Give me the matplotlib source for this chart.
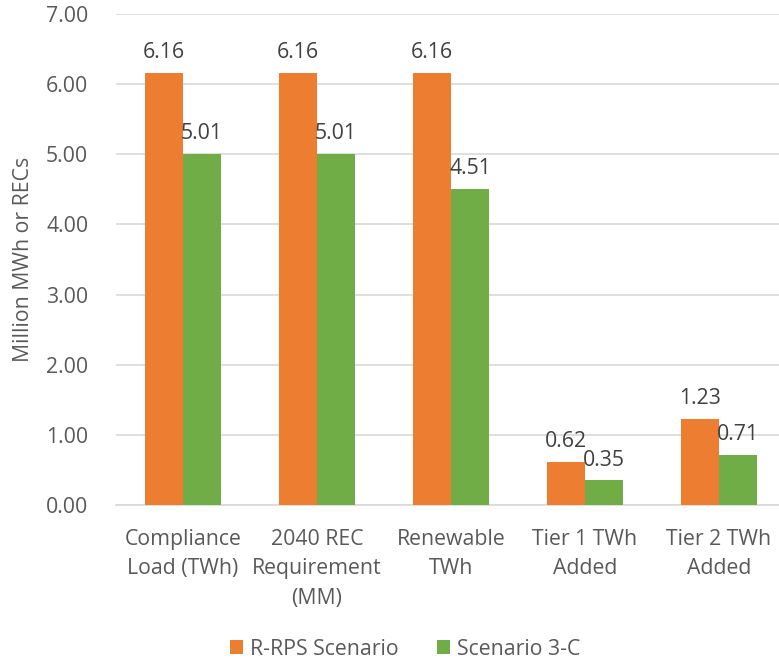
import matplotlib.pyplot as plt
import numpy as np

categories = ["Compliance\nLoad (TWh)", "2040 REC\nRequirement\n(MM)", "Renewable\nTWh",
              "Tier 1 TWh\nAdded", "Tier 2 TWh\nAdded"]
rrps = [6.16, 6.16, 6.16, 0.62, 1.23]
scen_3c = [5.01, 5.01, 4.51, 0.35, 0.71]
series_names = ["R-RPS Scenario", "Scenario 3-C"]

ORANGE = "#ED7D31"
GREEN = "#70AD47"
TEXT = "#595959"
FS = 15.3

plt.rcParams["font.family"] = ["Open Sans", "DejaVu Sans"]

fig = plt.figure(figsize=(7.79, 6.61), dpi=100)
ax = fig.add_axes([0.149, 0.236, 0.86, 0.743])

x = np.arange(len(categories))
w = 0.284
b1 = ax.bar(x - w / 2, rrps, w, color=ORANGE, label=series_names[0], zorder=3)
b2 = ax.bar(x + w / 2, scen_3c, w, color=GREEN, label=series_names[1], zorder=3)

# value labels above each bar
for bars, vals in ((b1, rrps), (b2, scen_3c)):
    for rect, v in zip(bars, vals):
        ax.annotate(f"{v:.2f}", (rect.get_x() + rect.get_width() / 2, v),
                    xytext=(0, 7), textcoords="offset points",
                    ha="center", va="bottom", fontsize=FS, color="#404040")

ax.set_xlim(-0.5, len(categories) - 0.5)
ax.set_ylim(0, 7)
ax.set_yticks(np.arange(0, 8, 1))
ax.set_yticklabels([f"{v:.2f}" for v in range(8)])
ax.set_xticks(x)
ax.set_xticklabels(categories, linespacing=1.55)
ax.tick_params(axis="both", length=0, labelsize=FS, labelcolor=TEXT)
ax.tick_params(axis="x", pad=17)
ax.tick_params(axis="y", pad=20)
ax.yaxis.grid(True, color="#D9D9D9", linewidth=1.2, zorder=0)
for side in ("top", "right", "left"):
    ax.spines[side].set_visible(False)
ax.spines["bottom"].set_color("#D9D9D9")
ax.spines["bottom"].set_linewidth(1.2)
ax.set_ylabel("Million MWh or RECs", fontsize=FS, color=TEXT, labelpad=9)

fig.legend(loc="center", bbox_to_anchor=(0.52, 0.018), ncol=2, frameon=False,
           fontsize=FS, labelcolor=TEXT, handlelength=0.6, handleheight=0.6,
           handletextpad=0.35, columnspacing=1.8)

fig.savefig("out.png", dpi=100)
